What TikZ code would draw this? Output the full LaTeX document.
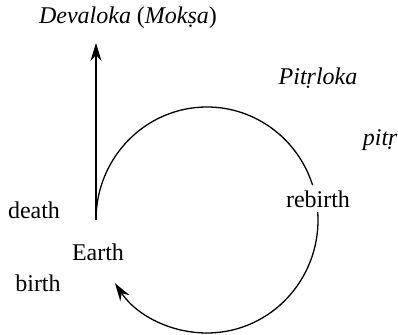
\documentclass[tikz,border=0pt]{standalone}
\usepackage{fontspec}
\setmainfont{Liberation Serif}[ItalicFont={Liberation Serif Italic},BoldFont={Liberation Serif Bold}]
\usetikzlibrary{arrows.meta,calc}
\begin{document}
\begin{tikzpicture}[x=0.5pt,y=0.5pt,
  lbl/.style={font=\fontsize{12}{14}\selectfont, inner sep=0pt},
  line/.style={line width=0.65pt},
  tip/.style={-{Stealth[length=9pt,width=5.5pt]}}]
\useasboundingbox (0,0) rectangle (398,-335);
% labels
\node[lbl] (deva) at (128,-18) {\textit{Devaloka} (\textit{Mokṣa})};
\node[lbl] (pitrloka) at (318,-78) {\textit{Pitṛloka}};
\node[lbl, anchor=east] (pitr) at (398,-140) {\textit{pitṛ}};
\node[lbl] (rebirth) at (318,-199) {rebirth};
\node[lbl] (death) at (34,-210) {death};
\node[lbl] (earth) at (98,-252) {Earth};
\node[lbl] (birth) at (38,-283) {birth};
% geometry
\coordinate (c) at (207,-220);
\coordinate (left) at (96,-220);
\coordinate (top) at (96,-43);
\draw[line, tip] (left) -- (top);
\draw[line] (left) arc[start angle=180, end angle=18, x radius=111, y radius=113];
\draw[line, tip] ($(c)+(4:111 and 113)$) arc[start angle=4, end angle=-146, x radius=111, y radius=113];
\end{tikzpicture}
\end{document}
